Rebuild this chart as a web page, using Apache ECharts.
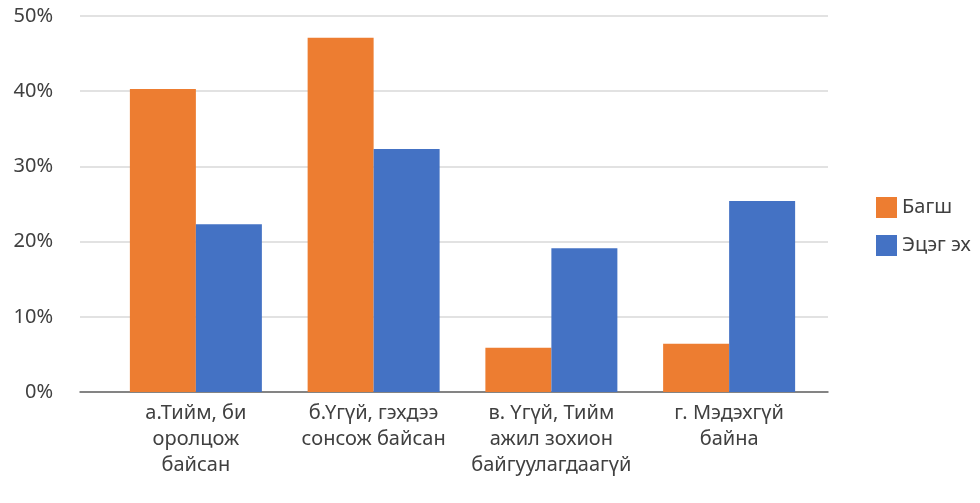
<!DOCTYPE html>
<html lang="mn">
    <head>
        <meta charset="UTF-8">
        <title>Багш, эцэг эх</title>
        <script src="https://cdn.jsdelivr.net/npm/echarts@6/dist/echarts.min.js"></script>
        <style>
            html, body { margin: 0; padding: 0; background: #fff; }
            #chart { width: 980px; height: 503px; }
        </style>
    </head>
    <body>
        <div id="chart"></div>
        <script>
            // өгөгдөл
            var categories = [
                'а.Тийм, би\nоролцож\nбайсан',
                'б.Үгүй, гэхдээ\nсонсож байсан',
                'в. Үгүй, Тийм\nажил зохион\nбайгуулагдаагүй',
                'г. Мэдэхгүй\nбайна'
            ];
            var seriesNames = ['Багш', 'Эцэг эх'];
            var teacher = [0.403, 0.471, 0.059, 0.064];
            var parent = [0.223, 0.323, 0.191, 0.254];
            var yTicks = [0, 0.1, 0.2, 0.3, 0.4, 0.5];

            var font = 'Noto Sans';
            var textColor = '#404040';

            var chart = echarts.init(document.getElementById('chart'), null, { renderer: 'canvas' });

            chart.setOption({
                animation: false,
                color: ['#ED7D31', '#4472C4'],
                textStyle: { fontFamily: font },
                legend: {
                    orient: 'vertical',
                    left: 871,
                    top: 192,
                    itemWidth: 21,
                    itemHeight: 21,
                    itemGap: 17,
                    icon: 'rect',
                    data: seriesNames,
                    textStyle: { fontSize: 20, color: textColor, fontFamily: font }
                },
                grid: [
                    // сүлжээ, тэнхлэг
                    { left: 80, right: 152, top: 16, bottom: 111 },
                    // баганууд
                    { left: 107, right: 162, top: 16, bottom: 111 }
                ],
                xAxis: [
                    {
                        gridIndex: 0, type: 'value', min: 0, max: 1,
                        axisLine: { show: true, lineStyle: { color: '#666', width: 1.5 } },
                        axisTick: { show: false },
                        axisLabel: { show: false },
                        splitLine: { show: false }
                    },
                    {
                        gridIndex: 1, type: 'category', data: categories,
                        axisLine: { show: false },
                        axisTick: { show: false },
                        axisLabel: {
                            interval: 0,
                            margin: 8,
                            fontSize: 20,
                            lineHeight: 26,
                            color: textColor,
                            fontFamily: font
                        }
                    }
                ],
                yAxis: [
                    {
                        gridIndex: 0, type: 'value', min: yTicks[0], max: yTicks[yTicks.length - 1], interval: 0.1,
                        axisLine: { show: false },
                        axisTick: { show: false },
                        axisLabel: {
                            margin: 27,
                            fontSize: 20,
                            color: textColor,
                            fontFamily: font,
                            formatter: function (v) { return Math.round(v * 100) + '%'; }
                        },
                        splitLine: { lineStyle: { color: '#d9d9d9', width: 1.5 } }
                    },
                    {
                        gridIndex: 1, type: 'value', min: 0, max: 0.5, show: false
                    }
                ],
                series: [
                    {
                        name: seriesNames[0], type: 'bar', data: teacher,
                        xAxisIndex: 1, yAxisIndex: 1,
                        barWidth: 66, barGap: '0%'
                    },
                    {
                        name: seriesNames[1], type: 'bar', data: parent,
                        xAxisIndex: 1, yAxisIndex: 1,
                        barWidth: 66, barGap: '0%'
                    }
                ]
            });
        </script>
    </body>
</html>
